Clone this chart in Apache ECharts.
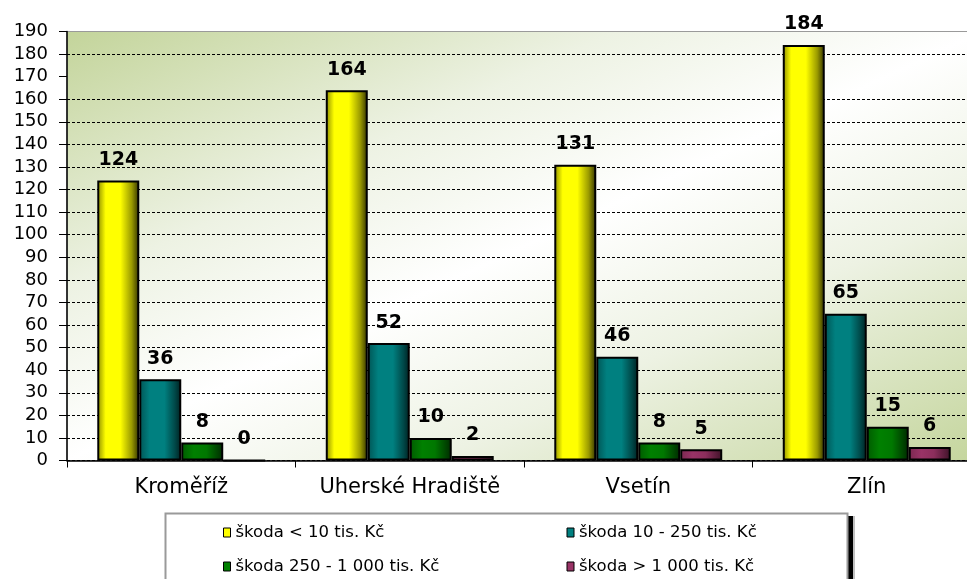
<!DOCTYPE html>
<html>
<head>
<meta charset="utf-8">
<script src="https://cdn.jsdelivr.net/npm/echarts@6/dist/echarts.min.js"></script>
<style>
html,body{margin:0;padding:0;background:#fff;overflow:hidden;width:967px;height:579px;}
#chart{width:981px;height:579px;}
</style>
</head>
<body>
<div id="chart"></div>
<script>
var categories = ['Kroměříž', 'Uherské Hradiště', 'Vsetín', 'Zlín'];
var seriesNames = ['škoda < 10 tis. Kč', 'škoda 10 - 250 tis. Kč', 'škoda 250 - 1 000 tis. Kč', 'škoda > 1 000 tis. Kč'];
var valuesUnder10 = [124, 164, 131, 184];
var values10to250 = [36, 52, 46, 65];
var values250to1000 = [8, 10, 8, 15];
var valuesOver1000 = [0, 2, 5, 6];
var yTicks = [0, 10, 20, 30, 40, 50, 60, 70, 80, 90, 100, 110, 120, 130, 140, 150, 160, 170, 180, 190];

var FONT = 'DejaVu Sans';
function grad(stops) {
  return new echarts.graphic.LinearGradient(0, 0, 1, 0, stops.map(function (s) { return { offset: s[0], color: s[1] }; }));
}
var fills = [
  grad([[0, '#8c8c00'], [0.2, '#ffff00'], [0.55, '#ffff00'], [0.82, '#9a9a00'], [1, '#2e2e00']]),
  grad([[0, '#005454'], [0.25, '#008080'], [0.6, '#008080'], [0.85, '#004848'], [1, '#002020']]),
  grad([[0, '#005a00'], [0.3, '#008000'], [0.6, '#007800'], [1, '#002a00']]),
  grad([[0, '#7a2850'], [0.3, '#993366'], [0.6, '#8c2e5c'], [1, '#3e1228']])
];
var legendColors = ['#ffff00', '#008080', '#008000', '#993366'];
var allValues = [valuesUnder10, values10to250, values250to1000, valuesOver1000];

var series = allValues.map(function (vals, i) {
  return {
    name: seriesNames[i],
    type: 'bar',
    data: vals,
    barGap: '0%',
    barCategoryGap: '26.5%',
    itemStyle: { color: fills[i], borderColor: '#000', borderWidth: 2 },
    label: {
      show: true, position: 'top', distance: 11,
      fontFamily: FONT, fontWeight: 'bold', fontSize: 19, color: '#000'
    }
  };
});

var chart = echarts.init(document.getElementById('chart'), null, { renderer: 'canvas' });
chart.setOption({
  animation: false,
  backgroundColor: '#fff',
  grid: {
    left: 67, right: 0, top: 31.5, bottom: 118.5,
    show: true,
    borderColor: '#9a9a9a', borderWidth: 1,
    backgroundColor: new echarts.graphic.LinearGradient(0, 0, 0.361, 1.639, [
      { offset: 0, color: '#c3d49a' },
      { offset: 0.3, color: '#edf2e3' },
      { offset: 0.5, color: '#ffffff' },
      { offset: 0.7, color: '#edf2e3' },
      { offset: 1, color: '#c4d59c' }
    ])
  },
  legend: {
    data: seriesNames.map(function (n, i) {
      return { name: n, itemStyle: { color: legendColors[i], borderColor: '#000', borderWidth: 1 } };
    }),
    left: 223, top: 524, width: 690,
    padding: 0,
    itemWidth: 7, itemHeight: 9, itemGap: 17,
    icon: 'rect',
    selectedMode: false,
    textStyle: { fontFamily: FONT, fontSize: 16.5, color: '#000', width: 314, lineHeight: 14 }
  },
  graphic: [
    { type: 'rect', z: -1, shape: { x: 848, y: 516, width: 5, height: 80 }, style: { fill: '#000' } },
    { type: 'rect', z: -1, shape: { x: 853, y: 516, width: 2, height: 80 }, style: { fill: '#c0c0c0' } },
    { type: 'rect', z: -1, shape: { x: 165.5, y: 513.5, width: 682, height: 80 }, style: { fill: '#fff', stroke: '#9a9a9a', lineWidth: 2 } }
  ],
  xAxis: {
    type: 'category',
    data: categories,
    axisLine: { lineStyle: { color: '#000', width: 1.5 } },
    axisTick: { show: true, length: 7, alignWithLabel: false, lineStyle: { color: '#000', width: 1 } },
    axisLabel: { interval: 0, fontFamily: FONT, fontSize: 21, color: '#000', margin: 17 }
  },
  yAxis: {
    type: 'value',
    min: 0, max: 190, interval: 10,
    axisLine: { show: true, lineStyle: { color: '#000', width: 1.5 } },
    axisTick: { show: true, length: 8, lineStyle: { color: '#000', width: 1 } },
    axisLabel: { fontFamily: FONT, fontSize: 18, color: '#000', margin: 19 },
    splitLine: {
      show: true, showMinLine: true, showMaxLine: false,
      lineStyle: {
        type: [3, 2], width: 1,
        color: yTicks.map(function (v) { return v === 170 ? 'rgba(0,0,0,0)' : '#000'; })
      }
    }
  },
  series: series
});
</script>
</body>
</html>
